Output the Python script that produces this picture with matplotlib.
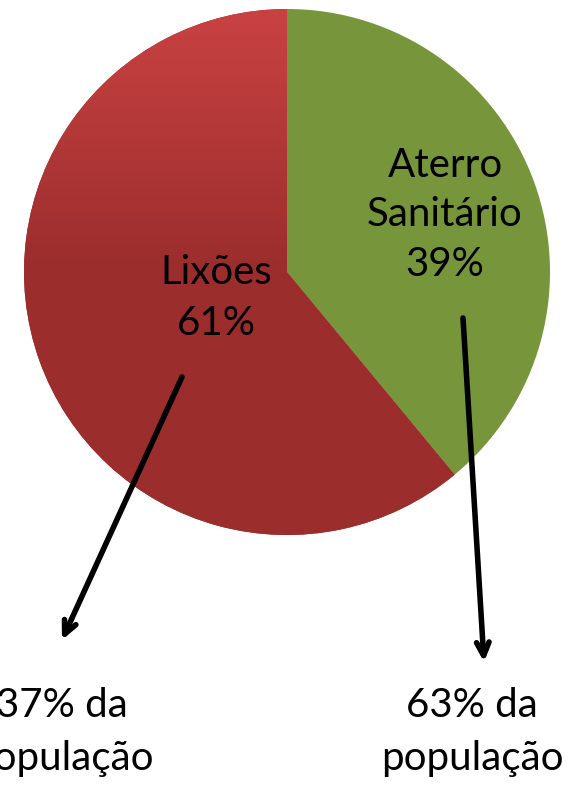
import numpy as np
import matplotlib
matplotlib.use("Agg")
import matplotlib.pyplot as plt
from matplotlib.colors import LinearSegmentedColormap

labels = ["Aterro\nSanitário", "Lixões"]
values = [39, 61]
colors = ["#77963c", "#9b2d2d"]
pop_labels = ["63% da\npopulação", "37% da\npopulação"]

W, H = 582, 785
fig = plt.figure(figsize=(W / 100, H / 100), dpi=100)
ax = fig.add_axes([0, 0, 1, 1])

cx, cy, r = 287, H - 272, 263
wedges, _ = ax.pie(values, colors=colors, startangle=90, counterclock=False,
                   center=(cx, cy), radius=r, frame=True,
                   wedgeprops=dict(linewidth=0))
ax.set_xlim(0, W)
ax.set_ylim(0, H)
ax.set_aspect("equal")
ax.axis("off")

# gradient on red wedge
cmap = LinearSegmentedColormap.from_list("g", ["#9b2d2d", "#9b2d2d", "#c94242"])
grad = np.linspace(0, 1, 256).reshape(-1, 1)
im = ax.imshow(grad, extent=[cx - r, cx + r, cy - r, cy + r], origin="lower",
               cmap=cmap, aspect="auto", zorder=wedges[1].get_zorder() + 0.1)
im.set_clip_path(wedges[1])

font = "Lato"
fs = 29
ax.text(445, H - 215, labels[0] + "\n39%", ha="center", va="center",
        fontsize=fs, family=font, linespacing=1.42, zorder=5)
ax.text(216, H - 298, labels[1] + "\n61%", ha="center", va="center",
        fontsize=fs, family=font, linespacing=1.45, zorder=5)

arrow = dict(arrowstyle="->,head_length=0.95,head_width=0.45", lw=4,
             color="black", shrinkA=0, shrinkB=0)
ax.annotate("", xy=(62, H - 640), xytext=(182, H - 377), arrowprops=arrow, zorder=6)
ax.annotate("", xy=(484, H - 662), xytext=(463, H - 318), arrowprops=arrow, zorder=6)

ax.text(472, H - 732, pop_labels[0], ha="center", va="center",
        fontsize=fs, family=font, linespacing=1.52, zorder=5)
ax.text(62, H - 732, pop_labels[1], ha="center", va="center",
        fontsize=fs, family=font, linespacing=1.52, zorder=5)

fig.savefig("out.png", dpi=100)
